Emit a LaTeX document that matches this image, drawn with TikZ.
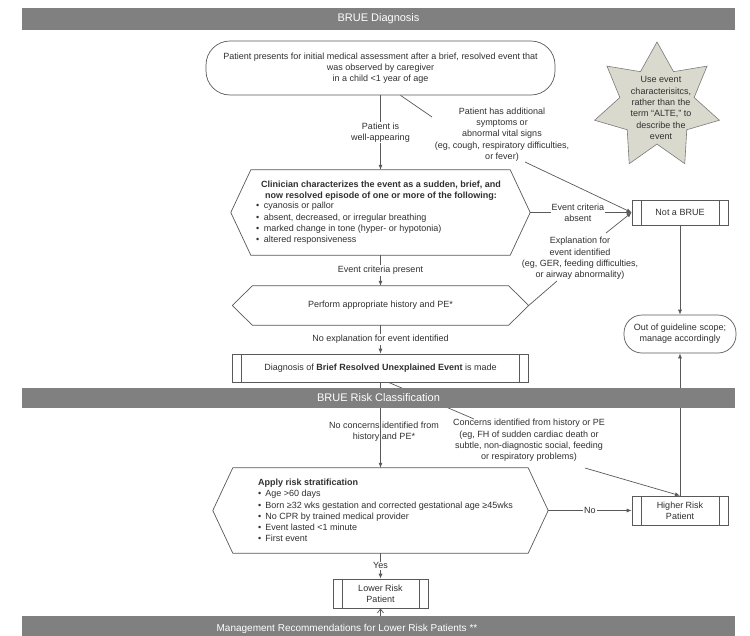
\documentclass[tikz,border=0pt]{standalone}
\usepackage{fontspec}
\setmainfont{Liberation Sans}
\usetikzlibrary{shapes.geometric,arrows.meta}
\definecolor{lc}{HTML}{595959}
\definecolor{tc}{HTML}{303030}
\definecolor{barc}{HTML}{808080}
\definecolor{starc}{HTML}{D9D9CE}
\newcommand\myfont{\fontsize{9}{11.3}\selectfont}
\newcommand\mybarfont{\fontsize{11}{13}\selectfont}
\begin{document}
\begin{tikzpicture}[x=1pt,y=-1pt,
  every node/.style={text=tc, font=\myfont},
  box/.style={draw=lc, line width=0.7pt, align=center, inner sep=0pt},
  procbox/.style={box, minimum width=96pt,
    path picture={\draw[lc, line width=0.7pt]
      ([xshift=9pt]path picture bounding box.north west) -- ([xshift=9pt]path picture bounding box.south west)
      ([xshift=-9pt]path picture bounding box.north east) -- ([xshift=-9pt]path picture bounding box.south east);}},
  hexnode/.style={inner sep=0pt, draw=none},
  hexline/.style={draw=lc, line width=0.7pt},
  lbl/.style={align=center, inner sep=1pt},
  wlbl/.style={lbl, fill=white},
  conn/.style={draw=lc, line width=0.7pt},
  arr/.style={conn, -{Latex[length=5pt,width=4pt]}},
  bar/.style={fill=barc, draw=none, minimum width=713pt, inner sep=0pt, text=white, font=\mybarfont},
]
\useasboundingbox[fill=white] (0,0) rectangle (750,635);

% ---- nodes ----
\node[box, rounded corners=24pt, minimum width=349pt, minimum height=54pt] (start) at (380.5,68)
  {Patient presents for initial medical assessment after a brief, resolved event that\\was observed by caregiver\\in a child <1 year of age};

\node[star, star points=7, star point ratio=1.68, minimum size=128pt, inner sep=0pt,
      draw=lc!80, line width=0.6pt, fill=starc] (star) at (657,106) {};
\node[lbl] (startxt) at (661,108) {Use event\\characterisitcs,\\rather than the\\term ``ALTE,'' to\\describe the\\event};

\node[hexnode, minimum width=299pt, minimum height=85pt] (h1) at (380.5,212.5) {};
\draw[hexline] (h1.west) -- ([xshift=20pt]h1.north west) -- ([xshift=-20pt]h1.north east) -- (h1.east)
  -- ([xshift=-20pt]h1.south east) -- ([xshift=20pt]h1.south west) -- cycle;
\node[lbl, font=\myfont\bfseries] (h1t) at (381,190.5)
  {Clinician characterizes the event as a sudden, brief, and\\now resolved episode of one or more of the following:};
\node[align=left, inner sep=0pt, anchor=west] (h1b) at (256,223.5)
  {•\hspace{4.5pt}cyanosis or pallor\\•\hspace{4.5pt}absent, decreased, or irregular breathing\\•\hspace{4.5pt}marked change in tone (hyper- or hypotonia)\\•\hspace{4.5pt}altered responsiveness};

\node[procbox, minimum height=25pt] (nb) at (680,212.5) {Not a BRUE};

\node[hexnode, minimum width=296pt, minimum height=39pt] (h2) at (380.5,305.5) {};
\draw[hexline] (h2.west) -- ([xshift=20pt]h2.north west) -- ([xshift=-20pt]h2.north east) -- (h2.east)
  -- ([xshift=-20pt]h2.south east) -- ([xshift=20pt]h2.south west) -- cycle;
\node[lbl] (h2t) at (h2.center) {Perform appropriate history and PE*};

\node[box, rounded corners=18pt, minimum width=112pt, minimum height=38pt] (og) at (680,334)
  {Out of guideline scope;\\manage accordingly};

\node[procbox, minimum width=296pt, minimum height=28pt] (diag) at (380.5,368)
  {Diagnosis of \textbf{Brief Resolved Unexplained Event} is made};

\node[hexnode, minimum width=335pt, minimum height=85pt] (h3) at (380.5,510.5) {};
\draw[hexline] (h3.west) -- ([xshift=20pt]h3.north west) -- ([xshift=-20pt]h3.north east) -- (h3.east)
  -- ([xshift=-20pt]h3.south east) -- ([xshift=20pt]h3.south west) -- cycle;
\node[align=left, inner sep=0pt, anchor=west] (h3t) at (258,510.5)
  {\textbf{Apply risk stratification}\\•\hspace{4pt}Age >60 days\\•\hspace{4pt}Born ≥32 wks gestation and corrected gestational age ≥45wks\\•\hspace{4pt}No CPR by trained medical provider\\•\hspace{4pt}Event lasted <1 minute\\•\hspace{4pt}First event};

\node[procbox, minimum height=29pt] (hr) at (680,510.5) {Higher Risk\\Patient};
\node[procbox, minimum width=95pt, minimum height=29pt] (lr) at (380.5,593.5) {Lower Risk\\Patient};

% ---- free ends of diagonal connectors ----
\coordinate (a1) at (432,117);
\coordinate (a2) at (525,162);
\coordinate (e1) at (557,281);
\coordinate (e2) at (606,233);
\coordinate (c1) at (474,419);
\coordinate (c2) at (585,468);

% ---- connectors ----
\draw[arr] (start.south) -- node[wlbl] {Patient is\\well-appearing} (h1.north);
\draw[conn] ([xshift=20pt]start.south) -- (a1);
\draw[arr] (a2) -- (nb.west);
\draw[arr] (h1.east) -- node[wlbl, pos=0.47] {Event criteria\\absent} (nb.west);
\draw[arr] (h1.south) -- node[wlbl] {Event criteria present} (h2.north);
\draw[conn] (h2.east) -- (e1);
\draw[arr] (e2) -- (nb.west);
\draw[arr] (h2.south) -- node[wlbl] {No explanation for event identified} (diag.north);
\draw[arr] (nb.south) -- (og.north);
\draw[arr] (hr.north) -- (og.south);
\draw[arr] (diag.south) -- (h3.north);
\draw[conn] ([xshift=8pt]diag.south) -- (c1);
\draw[arr] (c2) -- (hr.north);
\draw[arr] (h3.east) -- node[wlbl] {No} (hr.west);
\draw[arr] (h3.south) -- node[wlbl] {Yes} (lr.north);

% ---- labels ----
\node[lbl] (addl) at (502,134.5) {Patient has additional\\symptoms or\\abnormal vital signs\\(eg, cough, respiratory difficulties,\\or fever)};
\node[lbl] (expl) at (580,258.5) {Explanation for\\event identified\\(eg, GER, feeding difficulties,\\or airway abnormality)};
\node[lbl] (nocon) at (384,432) {No concerns identified from\\history and PE*};
\node[lbl] (con) at (529,440.5) {Concerns identified from history or PE\\(eg, FH of sudden cardiac death or\\subtle, non-diagnostic social, feeding\\or respiratory problems)};

% ---- section bars ----
\node[bar, minimum height=22pt] (b1) at (378.5,19) {BRUE Diagnosis};
\node[bar, minimum height=20pt] (b2) at (378.5,398) {BRUE Risk Classification};
\node[bar, minimum height=32pt] (b3) at (378.5,632) {};
\node[text=white, font=\fontsize{10}{12}\selectfont, inner sep=0pt] (b3t) at (347,628.5) {Management Recommendations for Lower Risk Patients **};
\draw[conn, -{Straight Barb[length=4pt,width=6pt]}] (lr.south |- b3.north) -- (lr.south);
\end{tikzpicture}
\end{document}
